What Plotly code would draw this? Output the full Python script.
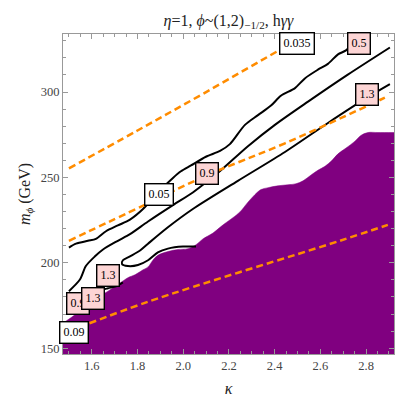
import plotly.graph_objects as go

# --- data --------------------------------------------------------------
# orange dashed contours
k_o035 = [1.50, 1.80, 2.10, 2.42, 2.56]
m_o035 = [255.3, 277.5, 300.0, 324.5, 335.0]
k_o05 = [1.50, 1.832, 2.108, 2.445, 2.882]
m_o05 = [212.9, 234.0, 251.5, 270.0, 296.7]
k_o09 = [1.50, 1.846, 2.685, 2.895]
m_o09 = [159.9, 177.2, 212.9, 222.2]

# black contours
k_b05 = [1.5, 1.531, 1.583, 1.618, 1.662, 1.714, 1.767, 1.824, 1.889, 1.955, 1.990,
         2.034, 2.099, 2.161, 2.204, 2.270, 2.327, 2.384, 2.427, 2.489, 2.532, 2.589,
         2.633, 2.677, 2.712, 2.764]
m_b05 = [208.9, 211.2, 212.9, 214.0, 218.5, 221.9, 225.3, 231.5, 241.2, 249.7, 253.6,
         257.0, 262.1, 265.5, 269.5, 280.8, 286.5, 292.1, 297.8, 302.3, 308.0, 313.1,
         316.5, 322.1, 324.4, 331.8]
k_b09 = [1.5, 1.548, 1.574, 1.614, 1.649, 1.714, 1.767, 1.846, 1.955, 2.042, 2.108,
         2.174, 2.283, 2.401, 2.546, 2.720, 2.904]
m_b09 = [183.4, 190.2, 198.1, 203.8, 207.8, 212.9, 216.8, 224.2, 233.8, 241.2, 248.0,
         255.3, 268.3, 280.8, 294.4, 310.2, 326.1]
k_b13 = [2.056, 1.999, 1.933, 1.889, 1.846, 1.802, 1.758, 1.732, 1.736, 1.767, 1.811,
         1.846, 1.933, 2.042, 2.239, 2.445, 2.633, 2.804, 2.904]
m_b13 = [209.5, 209.5, 208.3, 206.1, 201.5, 198.7, 198.1, 199.3, 201.5, 203.8, 207.2,
         211.2, 220.8, 231.5, 248.0, 264.9, 281.9, 296.7, 304.6]
k_b13b = [1.561, 1.627, 1.671, 1.706, 1.736]
m_b13b = [178.9, 183.4, 185.1, 186.2, 188.5]

# excluded (purple) region upper boundary
k_excl = [1.474, 1.5175, 1.548, 1.583, 1.614, 1.671, 1.727, 1.758, 1.789, 1.824, 1.846,
          1.867, 1.889, 1.933, 1.977, 2.021, 2.056, 2.086, 2.130, 2.161, 2.182, 2.217,
          2.248, 2.283, 2.314, 2.340, 2.371, 2.414, 2.458, 2.493, 2.524, 2.559, 2.589,
          2.620, 2.650, 2.677, 2.712, 2.751, 2.777, 2.808, 2.852, 2.922]
m_excl = [164.7, 168.7, 172.1, 176.0, 178.9, 183.4, 188.5, 191.3, 193.0, 195.9, 197.6,
          201.5, 204.4, 206.6, 207.8, 208.3, 210.6, 214.0, 217.4, 220.8, 223.0, 226.4,
          229.8, 235.5, 240.0, 242.9, 244.0, 245.1, 245.7, 246.3, 248.0, 251.4, 254.2,
          256.5, 259.9, 263.8, 267.2, 271.2, 274.6, 276.3, 276.3, 276.3]

# contour labels: text, kappa, mass, fill
lab_text = ["0.035", "0.5", "1.3", "0.9", "0.05", "1.3", "0.9", "1.3", "0.09"]
lab_k = [2.497, 2.771, 2.804, 2.104, 1.894, 1.671, 1.539, 1.605, 1.522]
lab_m = [328.7, 328.7, 298.4, 252.5, 239.8, 192.8, 176.0, 178.9, 159.1]
lab_bg = ["white", "#fdd5d5", "#fdd5d5", "#fdd5d5", "white", "#fdd5d5", "#fdd5d5",
          "#fdd5d5", "white"]

PURPLE = "#800080"
ORANGE = "#ff8c00"
SERIF = "Liberation Serif, Times New Roman, serif"

fig = go.Figure()
fig.add_trace(go.Scatter(x=k_excl, y=m_excl, mode="lines", fill="tozeroy",
                         fillcolor=PURPLE, line=dict(color=PURPLE, width=0.5, shape="spline")))

for kk, mm in [(k_b05, m_b05), (k_b09, m_b09), (k_b13, m_b13), (k_b13b, m_b13b)]:
    fig.add_trace(go.Scatter(x=kk, y=mm, mode="lines",
                             line=dict(color="black", width=2, shape="spline", smoothing=0.8)))

for kk, mm in [(k_o035, m_o035), (k_o05, m_o05), (k_o09, m_o09)]:
    fig.add_trace(go.Scatter(x=kk, y=mm, mode="lines",
                             line=dict(color=ORANGE, width=2.5, dash="7px,4px", shape="spline")))

for t, kx, my, bg in zip(lab_text, lab_k, lab_m, lab_bg):
    fig.add_annotation(x=kx, y=my, xref="x", yref="y", text=t, showarrow=False,
                       font=dict(family=SERIF, size=12, color="black"),
                       bgcolor=bg, bordercolor="black", borderwidth=1.4, borderpad=3)

axis_common = dict(showgrid=False, zeroline=False, showline=True, linecolor="#999999",
                   linewidth=1, mirror="allticks", ticks="inside", ticklen=5,
                   tickcolor="#999999", tickfont=dict(family=SERIF, size=12.5, color="#444444"))

fig.update_xaxes(range=[1.474, 2.922], dtick=0.2, tick0=1.6, tickformat=".1f",
                 minor=dict(ticks="inside", ticklen=3, dtick=0.05, tickcolor="#999999"),
                 title=dict(text="<i>κ</i>", font=dict(family=SERIF, size=16, color="#222"),
                            standoff=10),
                 **axis_common)
fig.update_yaxes(range=[146.6, 334.0], dtick=50, tick0=150,
                 minor=dict(ticks="inside", ticklen=3, dtick=10, tickcolor="#999999"),
                 title=dict(text="<i>m</i><sub><i>ϕ</i></sub> (GeV)",
                            font=dict(family=SERIF, size=16, color="#222"), standoff=6),
                 **axis_common)

fig.update_layout(
    width=415, height=398,
    margin=dict(l=55, r=29, t=26, b=41),
    paper_bgcolor="white", plot_bgcolor="white",
    showlegend=False,
    font=dict(family=SERIF),
    title=dict(text="<i>η</i>=1, <i>ϕ</i>~(1,2)<sub>−1/2</sub>, h<i>γγ</i>",
               x=0.5, xref="paper", xanchor="center", y=0.97, yanchor="middle",
               font=dict(family=SERIF, size=16, color="#222")),
)

fig.write_html("out.html")
